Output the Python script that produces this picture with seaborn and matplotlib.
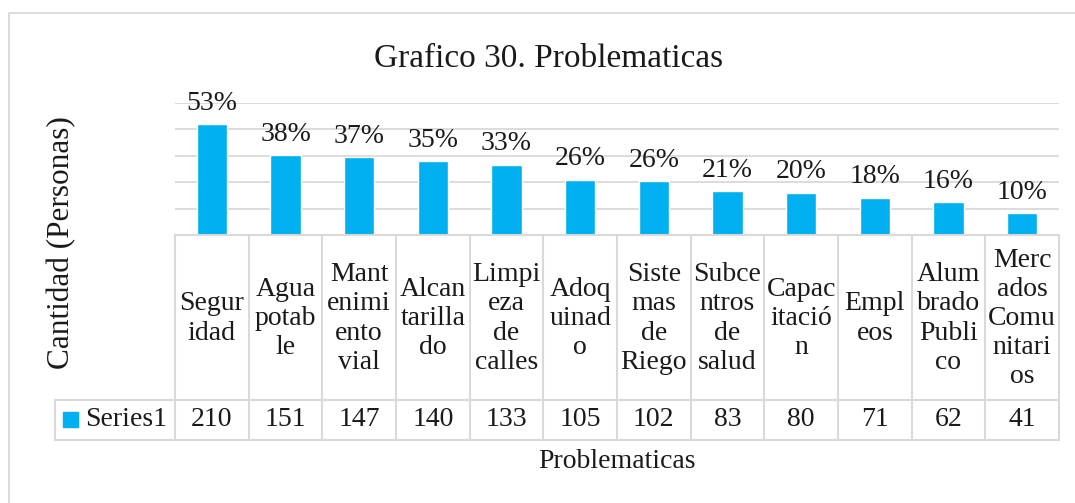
import matplotlib
matplotlib.use('Agg')
import matplotlib.pyplot as plt
import seaborn as sns
from matplotlib.patches import Rectangle

# Datos del grafico
categorias = ['Segur\nidad', 'Agua\npotab\nle', 'Mant\nenimi\nento\nvial', 'Alcan\ntarilla\ndo',
              'Limpi\neza\nde\ncalles', 'Adoq\nuinad\no', 'Siste\nmas\nde\nRiego',
              'Subce\nntros\nde\nsalud', 'Capac\nitació\nn', 'Empl\neos',
              'Alum\nbrado\nPubli\nco', 'Merc\nados\nComu\nnitari\nos']
valores = [210, 151, 147, 140, 133, 105, 102, 83, 80, 71, 62, 41]
porcentajes = ['53%', '38%', '37%', '35%', '33%', '26%', '26%', '21%', '20%', '18%', '16%', '10%']
serie = 'Series1'

W, H = 1075, 503
azul = '#00B0F0'
gris = '#d9d9d9'
texto = '#1a1a1a'
fuente = 'Liberation Serif'
fs = 20

sns.set_theme(style='white')
plt.rcParams['font.family'] = [fuente, 'DejaVu Serif']
plt.rcParams['text.color'] = texto

fig = plt.figure(figsize=(W / 100, H / 100), dpi=100)

# Borde exterior del grafico
fig.patches.append(Rectangle((9 / W, -0.1), 1.2, 1 - 13 / H + 0.1, transform=fig.transFigure,
                             fill=False, edgecolor=gris, linewidth=1.3))

# Area de barras
x0, x1, ytop, ybase, ytab = 175, 1059, 103, 235, 440
ax = fig.add_axes([x0 / W, 1 - ybase / H, (x1 - x0) / W, (ybase - ytop) / H])
sns.barplot(x=list(range(len(valores))), y=valores, color=azul, width=0.41,
            saturation=1, ax=ax, native_scale=True)
ax.set_xlim(-0.5, len(valores) - 0.5)
ax.set_ylim(0, 250)
ax.set_yticks([0, 50, 100, 150, 200, 250])
ax.yaxis.grid(True, color=gris, linewidth=1.3)
ax.set_axisbelow(True)
ax.tick_params(left=False, bottom=False, labelleft=False, labelbottom=False)
ax.set_xlabel('')
ax.set_ylabel('')
for s in ax.spines.values():
    s.set_visible(False)

for i, (v, p) in enumerate(zip(valores, porcentajes)):
    ax.annotate(p, (i, v), xytext=(0, 6), textcoords='offset points', ha='center',
                va='bottom', fontsize=fs, color=texto, annotation_clip=False)

# Tabla de datos
tab = fig.add_axes([x0 / W, 1 - ytab / H, (x1 - x0) / W, (ytab - ybase) / H])
tab.set_xlim(-0.5, len(valores) - 0.5)
tab.set_ylim(ytab - ybase, 0)
tab.axis('off')
unidad = (x1 - x0) / len(valores)
xleg = -0.5 - (x0 - 55) / unidad
hh = 400 - ybase
ht = ytab - ybase
lw = 1.5
tab.plot([-0.5, len(valores) - 0.5], [0, 0], color=gris, lw=lw, clip_on=False)
for yy in (hh, ht):
    tab.plot([xleg, len(valores) - 0.5], [yy, yy], color=gris, lw=lw, clip_on=False)
for k in range(len(valores) + 1):
    tab.plot([k - 0.5, k - 0.5], [0, ht], color=gris, lw=lw, clip_on=False)
tab.plot([xleg, xleg], [hh, ht], color=gris, lw=lw, clip_on=False)

for i, (c, v) in enumerate(zip(categorias, valores)):
    tab.text(i, hh / 2 + 1, c, ha='center', va='center', multialignment='center',
             fontsize=fs, linespacing=1.22, clip_on=False)
    tab.text(i, (hh + ht) / 2, str(v), ha='center', va='center', fontsize=fs, clip_on=False)

# Leyenda en la tabla
fig.patches.append(Rectangle((63 / W, 1 - 427 / H), 15 / W, 15 / H, transform=fig.transFigure,
                             color=azul))
fig.text(85 / W, 1 - 420 / H, serie, ha='left', va='center', fontsize=fs)

# Titulos
fig.text(549 / W, 1 - 67 / H, 'Grafico 30. Problematicas', ha='center', va='baseline', fontsize=24)
fig.text(617 / W, 1 - 468 / H, 'Problematicas', ha='center', va='baseline', fontsize=fs)
fig.text(62 / W, 1 - 243 / H, 'Cantidad (Personas)', ha='center', va='center', rotation=90,
         fontsize=22.5)

plt.savefig('out.png', dpi=100)
